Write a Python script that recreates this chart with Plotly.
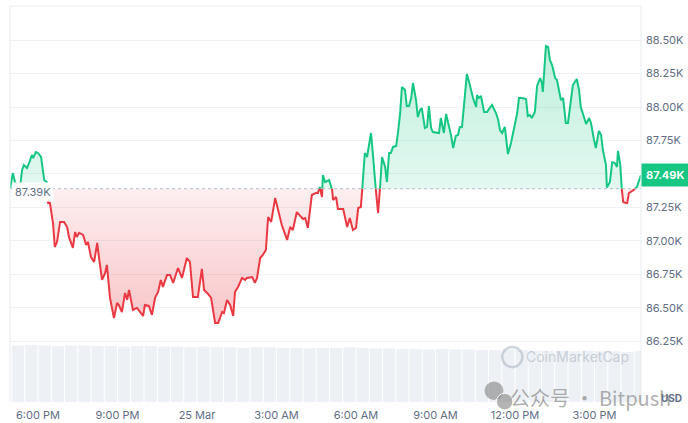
import pandas as pd
import plotly.graph_objects as go

# ---------------- data ----------------
start_time = pd.Timestamp("2025-03-24 18:00")
# minutes after 24 Mar 18:00
minutes = [-63, -57, -52, -45, -41, -36, -32, -25, -20, -14, -11, -5, 0, 7, 11, 14, 20,
           23, 27, 34, 38, 43, 50, 59, 66, 70, 79, 84, 88, 93, 102, 109, 113, 120, 127, 134,
           138, 145, 152, 156, 163, 172, 179, 183, 190, 197, 202, 206, 215, 224, 231, 238,
           242, 251, 258, 265, 272, 278, 283, 292, 299, 306, 317, 326, 337, 344, 351, 362,
           371, 376, 383, 392, 401, 408, 417, 421, 428, 435, 442, 446, 453, 462, 469, 473,
           485, 491, 496, 503, 509, 516, 521, 528, 537, 543, 552, 564, 571, 577, 586, 600,
           605, 611, 620, 629, 634, 638, 643, 645, 650, 659, 666, 668, 675, 679, 691, 700,
           706, 713, 720, 725, 731, 734, 740, 745, 749, 754, 758, 763, 765, 770, 774, 777,
           779, 786, 790, 795, 799, 804, 811, 815, 820, 824, 831, 835, 840, 845, 849, 856,
           860, 865, 869, 876, 881, 885, 890, 894, 903, 908, 912, 919, 924, 931, 935, 940,
           946, 951, 955, 960, 965, 971, 976, 980, 985, 992, 994, 998, 1003, 1010, 1017,
           1021, 1028, 1037, 1042, 1046, 1051, 1057, 1064, 1071, 1078, 1085, 1089, 1096,
           1105, 1109, 1114, 1118, 1125, 1130, 1137, 1141, 1143, 1150, 1155, 1159, 1164,
           1171, 1175, 1180, 1184, 1189, 1195, 1200, 1207, 1211, 1220, 1225, 1229, 1236,
           1241, 1248, 1252, 1259, 1263, 1270, 1275, 1279, 1286, 1288, 1295, 1300, 1306,
           1311, 1313, 1318, 1322, 1325, 1331, 1334, 1338, 1343, 1349, 1356, 1363, 1365]
prices = [87395, 87507, 87440, 87410, 87395, 87530, 87567, 87545, 87582, 87642, 87619, 87664,
          87657, 87627, 87530, 87455, 87440,
          87284, 87284, 87134, 86955, 86992, 87142, 87142, 87104, 87030, 86948, 87067, 87030,
          87060, 87045, 86970, 86993, 86880, 86843, 86985, 86880, 86709, 86761, 86821, 86575,
          86425, 86537, 86522, 86470, 86612, 86560, 86634, 86485, 86500, 86470, 86440, 86522,
          86515, 86448, 86575, 86619, 86709, 86657, 86746, 86746, 86687, 86798, 86724, 86873,
          86843, 86582, 86582, 86791, 86634, 86612, 86575, 86388, 86388, 86470, 86461, 86560,
          86522, 86440, 86619, 86657, 86724, 86709, 86724, 86731, 86687, 86724, 86873, 86896,
          86933, 87179, 87142, 87321, 87231, 87119, 87008, 87104, 87082, 87216, 87164, 87171,
          87097, 87343, 87358, 87358, 87403, 87328, 87492, 87440, 87455, 87381, 87306, 87328,
          87239, 87239, 87104, 87171, 87082, 87097, 87246, 87254, 87381, 87657, 87627, 87702,
          87806, 87657, 87455, 87381, 87209, 87381, 87507, 87627, 87552, 87440, 87657, 87657,
          87702, 87709, 87806, 87955, 88149, 88127, 88007, 88007, 88067, 88179, 88052, 87925,
          87978, 87992, 87843, 87851, 88007, 87843, 87813, 87806, 87806, 87918, 87806, 87948,
          87851, 87791, 87694, 87784, 87791, 87851, 87851, 88052, 88246, 88187, 88127, 88067,
          88000, 88089, 88067, 88082, 87963, 87963, 87985, 88015, 87955, 87903, 87828, 87806,
          87851, 87649, 87731, 87843, 87955, 88067, 88067, 88060, 87933, 87940, 87918, 87963,
          88157, 88216, 88179, 88112, 88455, 88448, 88351, 88313, 88216, 88201, 88104, 88052,
          88067, 87881, 87881, 88052, 88164, 88209, 88127, 88000, 87918, 87873, 87918, 87881,
          87754, 87694, 87821, 87791, 87679, 87567, 87400, 87440, 87589, 87582, 87552, 87672,
          87582, 87381, 87291, 87284, 87284, 87358, 87366, 87381, 87403, 87470, 87490]
base_price = 87390
last_price = 87490

# volume bars (relative), every 30 minutes from 17:00
volume_minutes = list(range(-60, 1380, 30))
volumes = [99, 100, 99, 98, 99, 99, 98, 98, 97, 98, 98, 97, 97, 96, 97, 96, 96, 95, 96, 96,
           95, 95, 94, 95, 95, 96, 95, 94, 94, 93, 93, 92, 93, 92, 92, 91, 91, 92, 91, 90,
           90, 90, 89, 90, 89, 89, 88, 89]

tick_minutes = [0, 180, 360, 540, 720, 900, 1080, 1260]
tick_labels = ["6:00 PM", "9:00 PM", "25 Mar", "3:00 AM", "6:00 AM", "9:00 AM", "12:00 PM", "3:00 PM"]
price_ticks = [86250, 86500, 86750, 87000, 87250, 87500, 87750, 88000, 88250, 88500]
price_tick_labels = ["86.25K", "86.50K", "86.75K", "87.00K", "87.25K", "87.50K", "87.75K",
                     "88.00K", "88.25K", "88.50K"]

GREEN = "#16c784"
RED = "#ea3943"
GRID = "#eff2f5"
TXT = "#616e85"

# ---------------- insert baseline crossings ----------------
mm, pp = [minutes[0]], [prices[0]]
for i in range(1, len(prices)):
    m0, p0, m1, p1 = minutes[i - 1], prices[i - 1], minutes[i], prices[i]
    if (p0 - base_price) * (p1 - base_price) < 0:
        mc = m0 + (base_price - p0) / (p1 - p0) * (m1 - m0)
        mm.append(mc)
        pp.append(base_price)
    mm.append(m1)
    pp.append(p1)

def to_time(ms):
    return [start_time + pd.Timedelta(minutes=float(m)) for m in ms]

tx = to_time(mm)
base_line = [base_price] * len(pp)
up_fill = [max(p, base_price) for p in pp]
dn_fill = [min(p, base_price) for p in pp]
up_line = [p if p >= base_price else None for p in pp]
dn_line = [p if p <= base_price else None for p in pp]

fig = go.Figure()

# volume (bottom strip)
fig.add_trace(go.Bar(x=to_time([m + 15 for m in volume_minutes]), y=volumes, yaxis="y2",
                     marker=dict(color="#edf0f4", line=dict(width=0)),
                     hoverinfo="skip", showlegend=False))

fig.add_trace(go.Scatter(x=tx, y=base_line, mode="lines", line=dict(width=0),
                         hoverinfo="skip", showlegend=False))
fig.add_trace(go.Scatter(x=tx, y=up_fill, mode="lines", line=dict(width=0), fill="tonexty",
                         fillgradient=dict(type="vertical", start=base_price, stop=88500,
                                           colorscale=[[0, "rgba(22,199,132,0.12)"],
                                                       [1, "rgba(22,199,132,0.28)"]]),
                         hoverinfo="skip", showlegend=False))
fig.add_trace(go.Scatter(x=tx, y=base_line, mode="lines", line=dict(width=0),
                         hoverinfo="skip", showlegend=False))
fig.add_trace(go.Scatter(x=tx, y=dn_fill, mode="lines", line=dict(width=0), fill="tonexty",
                         fillgradient=dict(type="vertical", start=base_price, stop=86350,
                                           colorscale=[[0, "rgba(234,57,67,0.08)"],
                                                       [1, "rgba(234,57,67,0.30)"]]),
                         hoverinfo="skip", showlegend=False))
fig.add_trace(go.Scatter(x=tx, y=up_line, mode="lines", line=dict(color=GREEN, width=2),
                         connectgaps=False, showlegend=False))
fig.add_trace(go.Scatter(x=tx, y=dn_line, mode="lines", line=dict(color=RED, width=2),
                         connectgaps=False, showlegend=False))

x0 = start_time + pd.Timedelta(minutes=-63.4)
x1 = start_time + pd.Timedelta(minutes=1365.3)

shapes = [
    dict(type="line", xref="paper", yref="y", x0=0, x1=1, y0=base_price, y1=base_price,
         line=dict(color="#b4bcc9", width=1, dash="dot"), layer="above"),
    dict(type="line", xref="paper", yref="paper", x0=0, x1=1, y0=1, y1=1,
         line=dict(color="#e8ebef", width=1)),
    dict(type="line", xref="paper", yref="paper", x0=0, x1=0, y0=0, y1=1,
         line=dict(color="#e8ebef", width=1)),
    dict(type="line", xref="paper", yref="paper", x0=1, x1=1, y0=0, y1=1,
         line=dict(color="#e8ebef", width=1)),
    # CoinMarketCap logo ring
    dict(type="circle", xref="paper", yref="paper", x0=0.780, x1=0.812, y0=0.088, y1=0.139,
         line=dict(color="rgba(170,180,195,0.55)", width=2.5)),
    # WeChat icon
    dict(type="circle", xref="paper", yref="paper", x0=0.752, x1=0.782, y0=0.005, y1=0.052,
         fillcolor="rgba(130,130,130,0.6)", line=dict(width=0)),
    dict(type="circle", xref="paper", yref="paper", x0=0.771, x1=0.797, y0=-0.020, y1=0.022,
         fillcolor="rgba(130,130,130,0.6)", line=dict(color="white", width=1)),
]

annotations = [
    dict(xref="paper", yref="y", x=0.003, y=base_price, xanchor="left", yanchor="middle",
         yshift=-3, text="87.39K", showarrow=False, bgcolor="white", borderpad=2,
         font=dict(family="Inter", size=11, color=TXT)),
    dict(xref="paper", yref="y", x=1, y=last_price, xanchor="left", yanchor="middle",
         text="<b>87.49K</b>", showarrow=False, bgcolor=GREEN, borderpad=4,
         font=dict(family="Inter", size=11, color="white")),
    dict(xref="paper", yref="paper", x=0.9, y=0.114, xanchor="center", yanchor="middle",
         text="CoinMarketCap", showarrow=False,
         font=dict(family="Inter", size=14, color="rgba(170,180,195,0.6)")),
    dict(xref="paper", yref="paper", x=0.79, y=0.012, xanchor="left", yanchor="middle",
         text="公众号 · Bitpush", showarrow=False,
         font=dict(family="Noto Sans CJK SC", size=20, color="rgba(120,120,120,0.6)")),
    dict(xref="paper", yref="paper", x=1.048, y=0.01, xanchor="center", yanchor="middle",
         text="<b>USD</b>", showarrow=False,
         font=dict(family="Inter", size=10, color=TXT)),
]

fig.update_layout(
    width=688, height=423,
    margin=dict(l=10, r=47, t=6, b=21),
    paper_bgcolor="white", plot_bgcolor="white",
    showlegend=False, bargap=0.08,
    hovermode=False,
    xaxis=dict(type="date", range=[x0, x1], showgrid=False, zeroline=False, showline=False,
               tickvals=to_time(tick_minutes), ticktext=tick_labels, ticks="",
               ticklabelstandoff=5, automargin=False,
               tickfont=dict(family="Inter", size=11, color=TXT)),
    yaxis=dict(range=[85798, 88754], side="right", tickvals=price_ticks,
               ticktext=price_tick_labels, showgrid=True, gridcolor=GRID, gridwidth=1,
               zeroline=False, ticks="", ticklabelstandoff=4, automargin=False,
               tickfont=dict(family="Inter", size=11, color=TXT)),
    yaxis2=dict(domain=[0, 0.144], range=[0, 100], visible=False, anchor="x"),
    shapes=shapes, annotations=annotations,
)

fig.write_html("out.html", config={"displayModeBar": False},
               post_script="document.body.style.margin='0';document.body.style.overflow='hidden';")
